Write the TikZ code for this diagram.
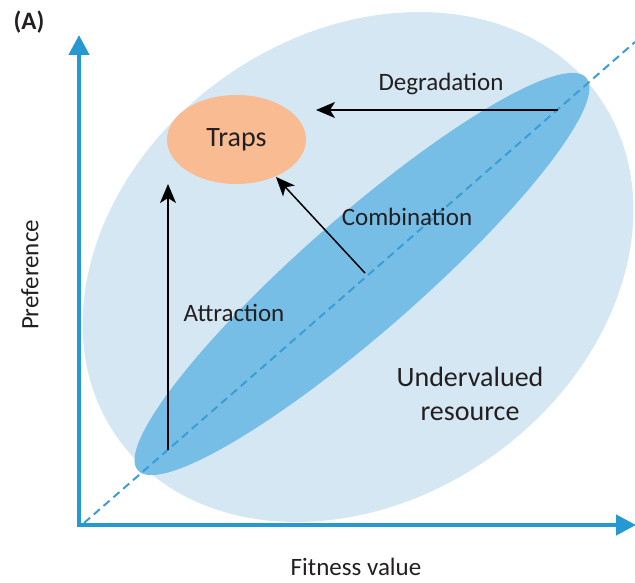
\documentclass[tikz,border=0pt]{standalone}
\usepackage{fontspec}
\setmainfont{Carlito}
\usetikzlibrary{arrows.meta,shapes.geometric}
\definecolor{lightbl}{HTML}{D5E7F3}
\definecolor{darkbl}{HTML}{76BEE6}
\definecolor{axisbl}{HTML}{2799D2}
\definecolor{dashbl}{HTML}{3A9ED6}
\definecolor{trapfill}{HTML}{F9BB92}
\definecolor{txt}{HTML}{231F20}
\tikzset{
  lbl/.style={text=txt, inner sep=0pt, font=\fontsize{25}{30}\selectfont},
  biglbl/.style={text=txt, inner sep=0pt, font=\fontsize{28}{34}\selectfont, align=center},
  axisline/.style={draw=axisbl, line width=4.5pt, -{Triangle[length=20pt,width=20pt]}},
  blackarrow/.style={draw=black, line width=1.5pt, -{Stealth[length=19pt,width=16pt,inset=5pt]}},
  diag/.style={draw=dashbl, line width=2pt, dash pattern=on 8pt off 5pt}
}
\begin{document}
\begin{tikzpicture}[x=1pt,y=-1pt]
\useasboundingbox (0,0) rectangle (635,583);
% ellipses
\fill[lightbl, rotate around={35.5:(358,267)}] (358,267) ellipse [x radius=295, y radius=232];
\fill[darkbl, rotate around={41.2:(362,274)}] (362,274) ellipse [x radius=298, y radius=58];
% dashed diagonal
\coordinate (d0) at (84,523);
\coordinate (d1) at (635,42);
\draw[diag] (d0) -- (d1);
% axes
\coordinate (o) at (79,525);
\coordinate (ytip) at (79,35);
\coordinate (xtip) at (636,525);
\draw[axisline] ([yshift=-2.25pt]o) -- (ytip);
\draw[axisline] ([xshift=-2.25pt]o) -- (xtip);
% traps
\node[ellipse, fill=trapfill, minimum width=139pt, minimum height=89pt, inner sep=0pt] (traps) at (236.5,139.5) {};
\node[biglbl] (trapslbl) at (236.5,139.5) {Traps};
% arrows
\coordinate (a0) at (168,450);
\coordinate (a1) at (168,184);
\draw[blackarrow] (a0) -- (a1);
\coordinate (c0) at (365,273);
\coordinate (c1) at (276,177);
\draw[blackarrow] (c0) -- (c1);
\coordinate (g0) at (558,110);
\coordinate (g1) at (316,110);
\draw[blackarrow] (g0) -- (g1);
% labels
\node[lbl] (deg) at (441,84) {Degradation};
\node[lbl] (comb) at (407,217) {Combination};
\node[lbl] (attr) at (234,313) {Attraction};
\node[biglbl] (under) at (470,394) {Undervalued\\resource};
\node[lbl] (fit) at (356,567) {Fitness value};
\node[lbl, rotate=90] (pref) at (30,275) {Preference};
\node[text=txt, inner sep=0pt, font=\bfseries\fontsize{25}{30}\selectfont] (A) at (29,22) {(A)};
\end{tikzpicture}
\end{document}
